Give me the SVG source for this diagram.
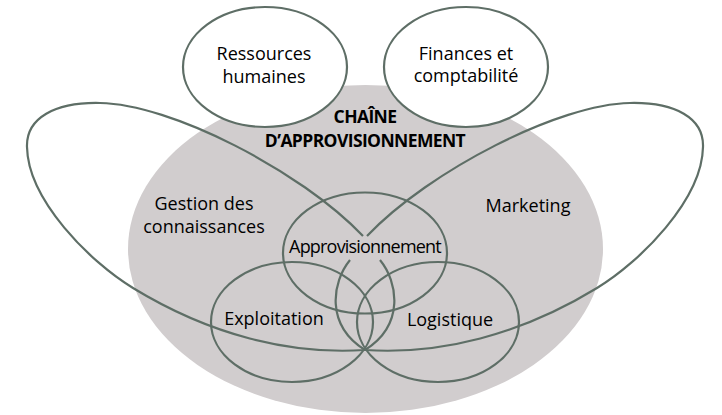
<svg xmlns="http://www.w3.org/2000/svg" width="722" height="415" viewBox="0 0 722 415">
<style>
.ln{fill:none;stroke:#5e6e66;stroke-width:2.2}
.wf{fill:#ffffff;stroke:#5e6e66;stroke-width:2.2}
.t{font-family:"Open Sans","Noto Sans",sans-serif;font-size:18px;fill:#000;text-anchor:middle}
.b{font-family:"Open Sans","Noto Sans",sans-serif;font-size:17.5px;font-weight:bold;fill:#000;text-anchor:middle;letter-spacing:-0.6px}
</style>
<rect width="722" height="415" fill="#ffffff"/>
<g id="chaine">
<ellipse cx="365.5" cy="249" rx="237.5" ry="164" fill="#d1cdce"/>
<text class="b" x="365" y="123">CHAÎNE</text>
<text class="b" x="365" y="147">D’APPROVISIONNEMENT</text>
</g>
<g id="ressources">
<ellipse class="wf" cx="265" cy="67" rx="82" ry="60"/>
<text class="t" x="264" y="60">Ressources</text>
<text class="t" x="264" y="83">humaines</text>
</g>
<g id="finances">
<ellipse class="wf" cx="466" cy="67" rx="82" ry="60"/>
<text class="t" x="466" y="60">Finances et</text>
<text class="t" x="466" y="82">comptabilité</text>
</g>
<g id="connectors">
<path id="gestion-loop" class="ln" d="M365,350 C290,355 210,335 133,288 C90,262 28,200 27,147 C26,118 55,102 100,103 C170,104 300,170 363,236 M380,260 C398,282 405,325 365,350"/>
<path id="marketing-loop" class="ln" d="M365,350 C440,355 520,335 597,288 C640,262 702,200 703,147 C704,118 675,102 630,103 C560,104 430,170 367,236 M350,260 C332,282 325,325 365,350"/>
</g>
<g id="gestion">
<text class="t" x="204" y="210">Gestion des</text>
<text class="t" x="204" y="233">connaissances</text>
</g>
<g id="marketing">
<text class="t" x="528" y="212">Marketing</text>
</g>
<g id="approvisionnement">
<ellipse class="ln" cx="365" cy="253" rx="82" ry="60.5"/>
<text class="t" x="365" y="253" letter-spacing="-0.8">Approvisionnement</text>
</g>
<g id="exploitation">
<ellipse class="ln" cx="292" cy="322" rx="81" ry="60"/>
<text class="t" x="274" y="325">Exploitation</text>
</g>
<g id="logistique">
<ellipse class="ln" cx="438" cy="322" rx="81" ry="60"/>
<text class="t" x="450" y="326">Logistique</text>
</g>
</svg>
